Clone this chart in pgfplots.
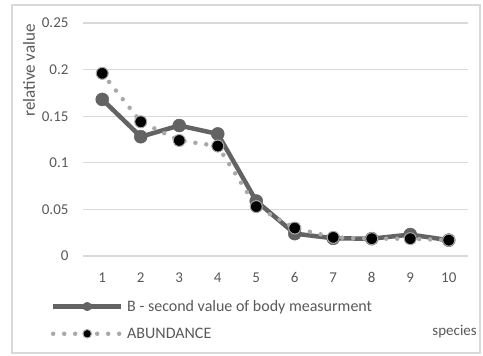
\documentclass[border=0pt]{standalone}
\usepackage{pgfplots}
\pgfplotsset{compat=1.18}
\usepackage{fontspec}
\setmainfont{Carlito}

\definecolor{gridgray}{HTML}{D9D9D9}
\definecolor{textgray}{HTML}{595959}
\definecolor{seriesB}{HTML}{636363}
\definecolor{abund}{HTML}{A9A9A9}
\definecolor{framegray}{HTML}{D9D9D9}

\begin{document}
\begin{tikzpicture}
% canvas and outer frame
\path (0pt,0pt) rectangle (483pt,-356pt);
\draw[framegray, line width=1.2pt] (12pt,-5pt) rectangle (480pt,-353pt);

\begin{axis}[
  at={(83pt,-256pt)}, anchor=south west,
  scale only axis, width=385pt, height=233pt,
  xmin=0.5, xmax=10.5, ymin=0, ymax=0.25,
  xtick={1,...,10}, ytick={0,0.05,...,0.25},
  axis line style={draw=none},
  major tick length=0pt,
  ymajorgrids, grid style={gridgray, line width=1.2pt},
  font=\fontsize{15}{17}\selectfont,
  tick label style={textgray},
  /pgf/number format/assume math mode=true,
  yticklabel style={/pgf/number format/fixed, /pgf/number format/precision=2, xshift=-11pt},
  xticklabel style={yshift=-13pt},
  clip=false,
  legend cell align=left,
  legend style={at={(axis description cs:0,0)}, anchor=north west,
    xshift=-33pt, yshift=-40pt, draw=none, fill=none,
    row sep=11pt, column sep=0pt, text=textgray, font=\fontsize{16}{18}\selectfont,
    nodes={inner sep=2pt}},
  legend image code/.code={%
    \path[draw=none, fill=none, use as bounding box] (0pt,-2pt) rectangle (72pt,2pt);
    \draw[#1, mark repeat=2, mark phase=2, mark size=4.3pt]
      plot coordinates {(0pt,0pt) (34pt,0pt) (68pt,0pt)};},
]
% B - second value of body measurment
\addplot[seriesB, line width=4.5pt, mark=*, mark size=6.5pt,
  mark options={solid, fill=seriesB, draw=seriesB, line width=0.5pt}]
  coordinates {(1,0.168) (2,0.128) (3,0.140) (4,0.131) (5,0.059)
               (6,0.024) (7,0.019) (8,0.0186) (9,0.023) (10,0.017)};
\addlegendentry{B - second value of body measurment}
% ABUNDANCE
\addplot[abund, line width=4.5pt, line cap=round, dash pattern=on 0pt off 11pt,
  mark=*, mark size=6pt,
  mark options={fill=black, draw=abund, line width=1.2pt, dash pattern=on 1pt off 1pt}]
  coordinates {(1,0.196) (2,0.144) (3,0.124) (4,0.118) (5,0.053)
               (6,0.030) (7,0.020) (8,0.0186) (9,0.0186) (10,0.017)};
\addlegendentry{ABUNDANCE}
\end{axis}

% axis titles
\node[rotate=90, anchor=east, inner sep=0pt, text=textgray,
  font=\fontsize{17}{19}\selectfont] at (29pt,-24pt) {relative value};
\node[anchor=east, inner sep=0pt, text=textgray,
  font=\fontsize{15}{17}\selectfont] at (477pt,-332pt) {species};
\end{tikzpicture}
\end{document}
